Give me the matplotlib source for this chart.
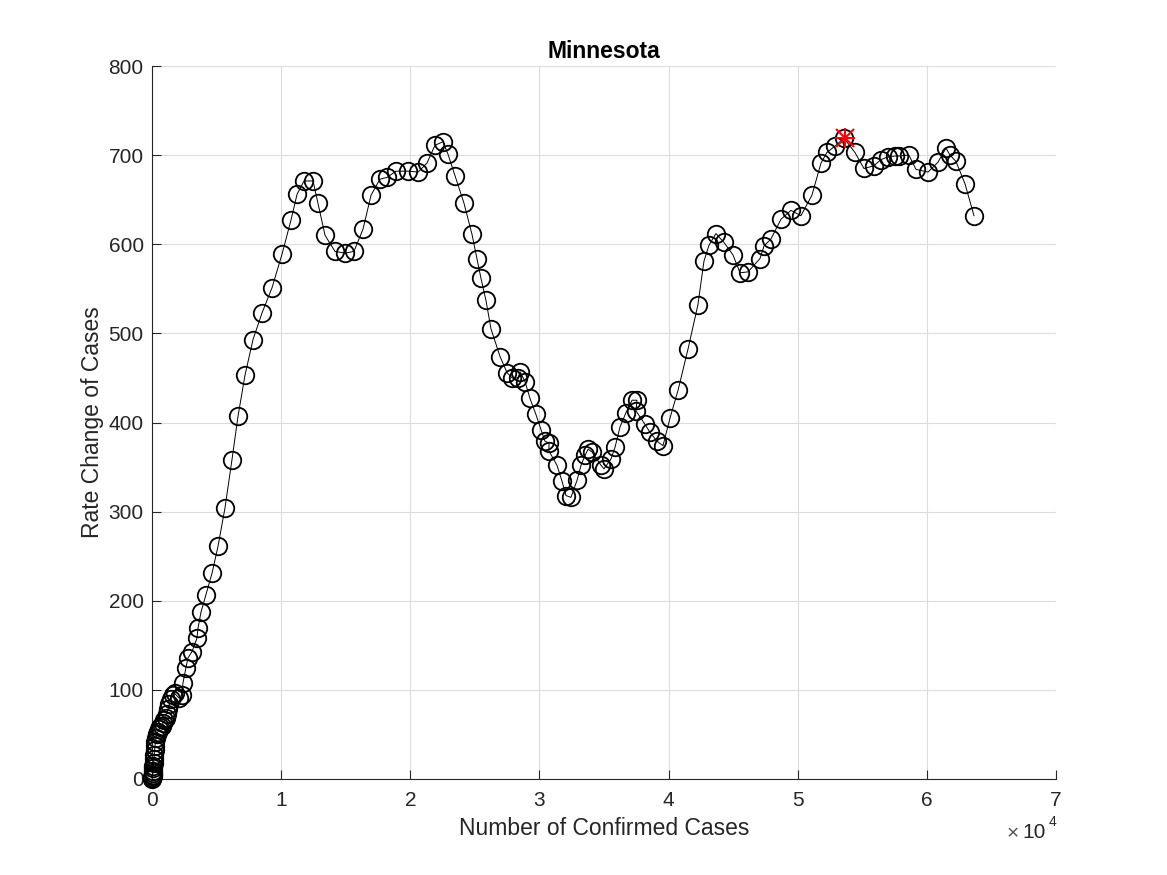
import matplotlib
matplotlib.use("Agg")
import matplotlib.pyplot as plt

plt.rcParams['font.family'] = ['Liberation Sans', 'DejaVu Sans']

cases = [10,20,30,40,50,60,70,90,110,130,150,170,200,230,270,310,370,450,550,650,760,860,960,1050,1130,1230,1340,1470,1620,1750,
         2090,2300,2400,2630,2790,3100,3480,3560,3790,4180,4650,
         5110,5650,6190,6660,7200,7820,8520,9290,10070,10760,11230,11770,12470,12850,13400,14170,14940,15640,16340,16960,
         17650,18200,18890,19820,20600,21290,21910,22530,22920,23460,24160,24780,25170,25470,25860,26250,26950,27490,27880,
         28340,28500,28880,29270,29730,30120,30430,30740,30740,31360,31750,32060,32440,32910,33220,33530,33760,34070,34770,
         35000,35540,35850,36240,36700,37170,37550,37480,38170,38560,39100,39570,40110,40730,41500,42270,42740,43130,43670,
         44290,44990,45530,46150,47080,47390,47930,48700,49480,50250,51100,51800,52260,52880,53580,54430,55130,55900,56440,
         57000,57530,57840,58610,59160,60090,60860,61480,61790,62250,62950,63650]
rates = [0,1,2,3,5,7,9,12,15,18,22,27,32,37,42,46,50,53,56,58,60,63,66,69,73,78,84,90,94,96,
         91,94,108,125,136,143,158,169,187,207,231,
         261,304,358,407,453,493,523,551,589,627,656,671,671,646,610,592,590,592,617,655,
         673,675,682,682,681,691,711,715,701,677,646,611,583,562,537,505,474,456,450,
         450,457,446,427,409,392,379,377,368,352,334,318,316,335,352,363,370,367,352,
         348,359,372,395,411,425,425,413,398,389,379,374,405,436,482,532,581,599,612,
         602,588,568,569,584,598,606,628,638,632,655,691,703,710,719,703,685,688,695,
         698,699,699,700,684,681,692,708,700,693,668,632]
peak_case = [53660]
peak_rate = [719]
title = 'Minnesota'
xlabel = 'Number of Confirmed Cases'
ylabel = 'Rate Change of Cases'
xticks = [0, 10000, 20000, 30000, 40000, 50000, 60000, 70000]
xticklabels = ['0', '1', '2', '3', '4', '5', '6', '7']
yticks = [0, 100, 200, 300, 400, 500, 600, 700, 800]

W, H = 1167, 875
fig = plt.figure(figsize=(W/100, H/100), dpi=100)
ax = fig.add_axes([152/W, 1-779/H, 904/W, 713/H])
ax.plot(cases, rates, color='black', lw=0.7, marker='o', ms=12.6, mfc='none', mec='black', mew=1.3, clip_on=False, zorder=3)
ax.plot(peak_case, peak_rate, color='red', marker='+', ms=15, mew=1.5, ls='none', zorder=5, clip_on=False)
ax.plot(peak_case, peak_rate, color='red', marker='x', ms=13, mew=1.5, ls='none', zorder=5, clip_on=False)
ax.set_xlim(0, 70000)
ax.set_ylim(0, 800)
ax.set_xticks(xticks, xticklabels)
ax.set_yticks(yticks)
ax.grid(True, color='#dcdcdc', lw=0.8)
ax.set_axisbelow(True)
ax.spines['top'].set_visible(False)
ax.spines['right'].set_visible(False)
for s in ('left', 'bottom'):
    ax.spines[s].set_color('#262626')
    ax.spines[s].set_linewidth(0.8)
ax.tick_params(direction='in', length=6.8, width=0.8, color='#262626', labelcolor='#262626', labelsize=15)
ax.tick_params(axis='x', pad=9)
ax.tick_params(axis='y', pad=6)
ax.set_xlabel(xlabel, fontsize=16.5, color='#262626', labelpad=5)
ax.set_ylabel(ylabel, fontsize=16.5, color='#262626', labelpad=3)
ax.set_title(title, fontsize=16.5, fontweight='bold', color='black', pad=6)
fig.text(1046/W, 1-833/H, '10', ha='right', va='center', fontsize=15, color='#262626')
fig.text(1056/W, 1-822/H, '4', ha='right', va='center', fontsize=10, color='#262626')
fig.text(1019/W, 1-834/H, '\u00d7', ha='right', va='center', fontsize=15, color='#555555')
fig.savefig('out.png', dpi=100)
